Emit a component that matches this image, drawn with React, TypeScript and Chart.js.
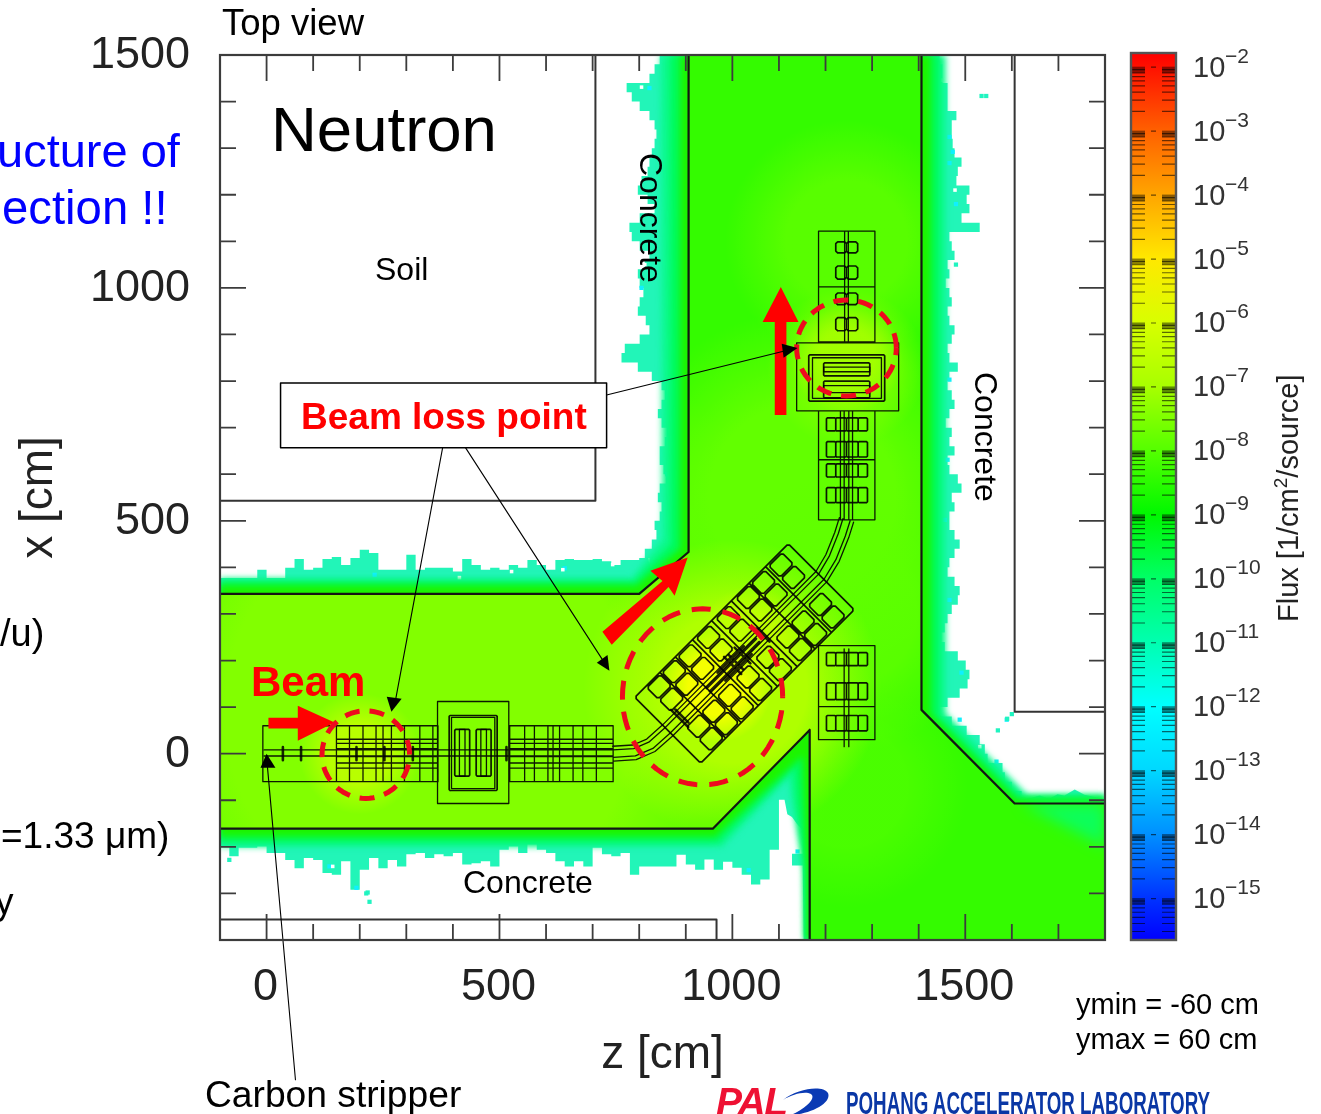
import React, { useEffect, useRef } from "react";
import { Chart, registerables } from "chart.js";

Chart.register(...registerables);

const FONT = '"Liberation Sans", Arial, sans-serif';
type P = { x: number; y: number };

// ---------- axis ----------
const Z_RANGE = [-100, 1800];
const X_RANGE = [-400, 1500];
const DECADES = [-2, -3, -4, -5, -6, -7, -8, -9, -10, -11, -12, -13, -14, -15];
const BAR_TOP = -1.786;
const BAR_BOTTOM = -15.656;
const MINOR_OFFSETS = [0.046, 0.097, 0.155, 0.222, 0.301, 0.398, 0.523, 0.699];
const FLUX_EXP = [-1.786, -2, -3, -4, -5, -6, -7, -8, -9, -10, -11, -12, -13, -14, -15, -15.656];
const FLUX_COLOR = ["#ff0000", "#ff1000", "#ff6000", "#ffa500", "#ffe800", "#d8ff00", "#a8ff00", "#55ff00", "#00f800", "#00ff66", "#00ffb0", "#00ffff", "#00d8ff", "#0090ff", "#0033ff", "#0000ff"];

// ---------- flux field: jagged limit of the scored region (cm), one value per 20 cm ----------
const TOP_ROW = [377, 377, 377, 377, 395, 377, 377, 399, 418, 395, 399, 418, 422, 405, 420, 438, 431, 395, 395, 395, 427, 395, 399, 399, 399, 391, 418, 405, 395, 399, 395, 405, 399, 416, 405, 395, 416, 418, 416, 416, 418, 413, 405, 416, 416, 420];
const LEFT_EDGE = [844, 833, 822, 773, 784, 801, 822, 833, 837, 833, 827, 822, 818, 805, 797, 818, 833, 801, 779, 784, 801, 822, 812, 797, 801, 809, 801, 797, 814, 822, 801, 769, 762, 797, 827, 848, 855, 848, 840, 848, 859, 855, 844, 844, 852, 857, 844, 840, 848, 844, 833, 837, 827, 812, 822];
const RIGHT_EDGE = [1445, 1451, 1451, 1462, 1462, 1462, 1481, 1471, 1471, 1473, 1477, 1492, 1484, 1481, 1509, 1503, 1509, 1492, 1531, 1466, 1471, 1477, 1462, 1466, 1458, 1466, 1471, 1462, 1466, 1477, 1471, 1462, 1466, 1484, 1466, 1462, 1471, 1477, 1466, 1458, 1471, 1466, 1477, 1462, 1466, 1484, 1492, 1471, 1477, 1466, 1466, 1477, 1488, 1477, 1466, 1462, 1477, 1488, 1484, 1471, 1462, 1456, 1449, 1456, 1484, 1501, 1509, 1505, 1488, 1462, 1445, 1471, 1503, 1531, 1542, 1548, 1580, 1585, 1600, 1621];
const RIGHT_ROW: [number, number][] = [[1660, -90], [1680, -97], [1698, -87], [1713, -90], [1735, -77], [1756, -88], [1800, -98], [1800, -400], [1153, -400]];
const NOTCH: [number, number][] = [[1151, -240], [1128, -240], [1128, -215], [1151, -215], [1151, -165], [1138, -150], [1128, -136], [1118, -130], [1112, -99], [1100, -99]];
const BOTTOM_ROW = [-199, -220, -202, -202, -199, -213, -213, -228, -246, -224, -228, -256, -260, -231, -292, -249, -224, -246, -228, -242, -216, -213, -224, -216, -220, -213, -238, -235, -231, -242, -206, -199, -213, -195, -206, -213, -231, -242, -231, -242, -202, -216, -220, -213, -260, -242, -242, -242, -242, -217, -238, -249, -227, -249, -232, -245, -260, -281, -270, -206];

const TUNNEL: [number, number][] = [[-100, 343], [800, 343], [906, 433], [906, 1500], [1406, 1500], [1406, 94], [1606, -107], [1800, -107], [1800, -400], [1166, -400], [1166, 51], [958, -161], [-100, -161]];
const BAND_FAR: [number, number][] = [[-100, 376], [785, 376], [850, 462], [846, 1500], [1458, 1500], [1458, 87], [1633, -88], [1800, -88], [1800, -400], [1155, -400], [1153, -250], [1128, -100], [1120, -50], [978, -200], [-100, -200]];
const BAND_OUTER: [number, number][] = [[-100, 369], [790, 369], [868, 450], [866, 1500], [1444, 1500], [1444, 81], [1617, -92], [1800, -92], [1800, -400], [1157, -400], [1155, -250], [1138, -100], [1134, -28], [970, -190], [-100, -190]];
const BAND_INNER: [number, number][] = [[-100, 361], [795, 361], [888, 440], [888, 1500], [1426, 1500], [1426, 86], [1610, -98], [1800, -98], [1800, -400], [1160, -400], [1160, -250], [1150, -5], [963, -178], [-100, -178]];
const CORNER_FADE: [number, number][] = [[1620, -107], [1800, -107], [1800, -200]];

const HOT_Z = [350, 1150, 1245, 1245, 1245, 1245, 1000, 200, 1245, 966, 1040];
const HOT_X = [90, 550, 1100, 300, -70, 830, 140, 0, 850, 144, 250];
const HOT_R = [880, 400, 260, 300, 260, 170, 320, 130, 120, 120, 110];
const HOT_COLOR = ["130,255,0,1", "98,255,0,1", "100,255,0,.75", "95,255,0,.85", "85,255,0,.65", "130,255,0,.9", "175,255,0,1", "190,255,0,.9", "170,255,0,.8", "245,255,0,1", "200,255,0,.6"];

const CYAN_Z = [822, 1466, 1473, 1466, 1492, 1488, 1567, 1589, 1144, 1140, 232, 135, 193, 1456, 1466, 1462, 1466, 805, 860, 1480, 640, 1035];
const CYAN_X = [1429, 1324, 1292, 1268, 174, 73, -17, 73, -77, -210, 384, -242, -288, 502, 330, 631, 803, 1000, 600, 1180, 398, -250];
const WHITE_Z = [1451, 805, 797, 1531, 414, 526, 636, 743, 142, 812, 1478];
const WHITE_X = [1446, 1431, 807, 15, 378, 391, 395, 406, -242, 1050, 1210];
const ISLE_Z = [1535, 1545, 221, 217, 214, 1600, 1590, 1570, -80, 1480];
const ISLE_X = [1412, 1412, -318, -298, -300, 85, 75, 50, -228, 1050];

// ---------- geometry walls ----------
const WALLS: [number, number][][] = [
  [[-100, 343], [800, 343], [906, 433], [906, 1500]],
  [[1406, 1500], [1406, 94], [1606, -107], [1800, -107]],
  [[-100, -161], [958, -161], [1166, 51], [1166, -400]],
];
const SOIL: [number, number][][] = [
  [[706, 1500], [706, 543], [-100, 543]],
  [[1606, 1500], [1606, 90], [1800, 90]],
  [[-100, -356], [966, -356], [966, -400]],
];

// ---------- beam line, straight part ----------
const STRAIGHT_EDGES = [150, 178, 207, 235, 250, 268, 296, 329, 357, 368, 522, 554, 575, 604, 615, 629, 658, 679, 708, 744];
const STRAIGHT_ROWS = [31, 22, 11, -6, -20, -31];
const STRAIGHT_PIPES = [8, -5];
const LENS_Z = [35, 74, 193, 253, 314, 515];
const RECTS: [number, number, number, number][] = [
  [-8, 150, -60, 60], [150, 368, -60, 60], [522, 744, -60, 60],
  [367, 520, -107, 112], [397, 490, -75, 78],
  [414, 426, -48, 52], [460, 472, -48, 52],
  [1185, 1306, 1002, 1122], [1185, 1306, 884, 1002],
  [1138, 1357, 736, 882], [1172, 1320, 763, 850],
  [1196, 1295, 820, 830], [1196, 1295, 775, 790],
  [1185, 1306, 631, 736], [1185, 1306, 502, 631], [1185, 1306, 30, 232], [1185, 1306, 30, 101],
];
const HEAVY_RECTS: [number, number, number, number][] = [
  [392, 495, -79, 82], [404, 436, -48, 52], [450, 482, -48, 52],
  [1164, 1327, 757, 856], [1196, 1295, 811, 839], [1196, 1295, 764, 800],
];
const SMALL_CELLS: [number, number, number, number][] = [
  [1222, 1245, 1075, 1099], [1245, 1269, 1075, 1099], [1222, 1245, 1019, 1047], [1245, 1269, 1019, 1047],
  [1222, 1245, 964, 989], [1245, 1269, 964, 989], [1222, 1245, 908, 936], [1245, 1269, 908, 936],
];
const CELL_Z: [number, number][] = [[1202, 1222], [1222, 1245], [1245, 1270], [1270, 1290]];
const CELL_X_UPPER: [number, number][] = [[693, 721], [637, 670], [594, 622], [539, 571]];
const CELL_X_LOWER: [number, number][] = [[189, 217], [116, 152], [49, 82]];
const VERTICAL_PIPES: [number, number, number][] = [[1232, 502, 736], [1240, 502, 736], [1250, 502, 736], [1258, 502, 736], [1241, 884, 1122], [1249, 884, 1122], [1240, 15, 225], [1250, 15, 225]];

// ---------- beam line, 45 degree part (u along, v across, cm) ----------
const ROT_CENTER = [1026, 215];
const ROT_HALF = [233, 100];
const ROT_GROUPS = [190, 137, 91, 30, -30, -86, -134, -180];
const ROT_DIVIDERS = [164, 114, 60, 0, -58, -110, -157];
const ROT_ACROSS: [number, number][] = [[-96, -62], [-58, -24], [24, 58], [62, 96]];
const PIPE_LOW: [number, number][] = [[744, 0], [790, 3], [825, 18], [861, 50], [1191, 380], [1215, 420], [1235, 470], [1245, 502]];
const PIPE_OFFSETS = [-16, -8, 8, 16];

// ---------- red and black annotations ----------
const LOSS_RINGS: [number, number, number, number][] = [[213, -2, 94, 94], [936, 122, 172, 189], [1245, 871, 107, 103]];
const ARROW_BEAM: [number, number][] = [[4, 77], [67, 77], [67, 103], [146, 67], [67, 28], [67, 54], [4, 54]];
const ARROW_DIAG: [number, number][] = [[721, 262], [850, 371], [824, 393], [904, 421], [876, 339], [863, 358], [741, 234]];
const ARROW_UP: [number, number][] = [[1091, 727], [1091, 927], [1065, 927], [1104, 1002], [1142, 927], [1116, 927], [1116, 727]];
const NOTE_BOX: [number, number][] = [[30, 657], [730, 657], [730, 796], [30, 796], [30, 657]];
const NOTE_LINES: [number, number][][] = [
  [[378, 657], [277, 116]], [[427, 657], [721, 202]], [[730, 770], [1114, 865]], [[62, -700], [2, -30]],
];
const NOTE_HEADS: [number, number][][] = [
  [[268, 90], [258, 122], [290, 118]], [[736, 178], [709, 195], [732, 212]],
  [[1140, 871], [1106, 880], [1110, 850]], [[0, 0], [-13, -30], [19, -30]],
];

// ---------- helpers that lay values out as points ----------
const pts = (a: [number, number][]): P[] => a.map(([x, y]) => ({ x, y }));
const GAP: P = { x: NaN, y: NaN };
const joined = (lines: P[][]): P[] => lines.flatMap((l) => [...l, GAP]);
const stairsH = (v: number[], z0: number, d: number): P[] => v.flatMap((y, i) => [{ x: z0 + i * d, y }, { x: z0 + (i + 1) * d, y }]);
const stairsV = (v: number[], x0: number, d: number): P[] => v.flatMap((x, i) => [{ x, y: x0 + i * d }, { x, y: x0 + (i + 1) * d }]);
const box = (z1: number, z2: number, x1: number, x2: number): P[] => pts([[z1, x1], [z2, x1], [z2, x2], [z1, x2], [z1, x1]]);
const soft = (z1: number, z2: number, x1: number, x2: number, c = 2): P[] =>
  pts([[z1 + c, x1], [z2 - c, x1], [z2, x1 + c], [z2, x2 - c], [z2 - c, x2], [z1 + c, x2], [z1, x2 - c], [z1, x1 + c], [z1 + c, x1]]);
const rot = (u: number, v: number): P => ({ x: ROT_CENTER[0] + (u + v) * 0.7071, y: ROT_CENTER[1] + (u - v) * 0.7071 });
const rotSoft = (u1: number, u2: number, v1: number, v2: number, c = 4): P[] =>
  [rot(u1 + c, v1), rot(u2 - c, v1), rot(u2, v1 + c), rot(u2, v2 - c), rot(u2 - c, v2), rot(u1 + c, v2), rot(u1, v2 - c), rot(u1, v1 + c), rot(u1 + c, v1)];
const ring = ([z, x, rz, rx]: number[]): P[] => Array.from({ length: 73 }, (_, i) => ({ x: z + rz * Math.cos((i * Math.PI) / 36), y: x + rx * Math.sin((i * Math.PI) / 36) }));
const offsetLine = (l: [number, number][], d: number): P[] =>
  l.map(([z, x], i) => {
    const [az, ax] = l[Math.max(0, i - 1)];
    const [bz, bx] = l[Math.min(l.length - 1, i + 1)];
    const n = Math.hypot(bz - az, bx - ax);
    return { x: z + (d * (bx - ax)) / n, y: x - (d * (bz - az)) / n };
  });

const HALO: P[] = [
  ...stairsH(TOP_ROW, -100, 20),
  ...stairsV(LEFT_EDGE, 1500, -20).reverse(),
  ...stairsV(RIGHT_EDGE, 1500, -20),
  ...pts(RIGHT_ROW),
  ...pts(NOTCH),
  ...stairsH(BOTTOM_ROW, -100, 20).reverse(),
];

const beamThin: P[][] = [
  ...RECTS.map(([a, b, c, d]) => box(a, b, c, d)),
  ...STRAIGHT_EDGES.map((z) => pts([[z, -60], [z, 60]])),
  ...STRAIGHT_ROWS.flatMap((x) => [pts([[150, x], [368, x]]), pts([[522, x], [744, x]])]),
  ...STRAIGHT_PIPES.map((x) => pts([[-5, x], [744, x]])),
  ...VERTICAL_PIPES.map(([z, a, b]) => pts([[z, a], [z, b]])),
  ...PIPE_OFFSETS.map((d) => offsetLine(PIPE_LOW, d)),
];
const beamCells: P[][] = [
  ...HEAVY_RECTS.map(([a, b, c, d]) => soft(a, b, c, d, 2)),
  ...SMALL_CELLS.map(([a, b, c, d]) => soft(a, b, c, d, 4)),
  ...CELL_Z.flatMap(([a, b]) => [...CELL_X_UPPER, ...CELL_X_LOWER].map(([c, d]) => soft(a, b, c, d))),
  rotSoft(-ROT_HALF[0], ROT_HALF[0], -ROT_HALF[1], ROT_HALF[1], 4),
  ...ROT_DIVIDERS.map((u) => [rot(u, -ROT_HALF[1]), rot(u, ROT_HALF[1])]),
  ...ROT_GROUPS.flatMap((u) => ROT_ACROSS.map(([a, b]) => rotSoft(u - 20, u + 20, a, b))),
];
const beamThick: P[][] = [
  ...LENS_Z.map((z) => pts([[z, -14], [z, 14]])),
  [rot(-110, -5), rot(40, -5)], [rot(-110, 5), rot(40, 5)], [rot(-70, -12), rot(10, -12)], [rot(-70, 12), rot(10, 12)],
  [rot(-36, -26), rot(-36, 26)], [rot(-26, -22), rot(-26, 22)], [rot(-6, -24), rot(-6, 24)], [rot(-197, -26), rot(-197, 26)], [rot(-190, -20), rot(-190, 20)], [rot(56, -20), rot(56, 20)],
];

const regionFill = {
  id: "regionFill",
  beforeDatasetDraw(chart: any, args: any) {
    const ds = chart.data.datasets[args.index];
    if (!ds.region) return;
    const { ctx, chartArea: a } = chart;
    const path = new Path2D();
    let open = false;
    for (const e of args.meta.data) {
      if (!isFinite(e.x) || !isFinite(e.y)) { open = false; continue; }
      if (!open) { path.moveTo(e.x, e.y); open = true; } else path.lineTo(e.x, e.y);
    }
    path.closePath();
    ctx.save();
    ctx.beginPath(); ctx.rect(a.left, a.top, a.width, a.height); ctx.clip();
    if (ds.blur) ctx.filter = `blur(${ds.blur}px)`;
    ctx.fillStyle = ds.region;
    ctx.fill(path);
    ctx.filter = "none";
    if (ds.glow) {
      ctx.clip(path);
      const sx = chart.scales.x, sy = chart.scales.y;
      HOT_Z.forEach((z, i) => {
        const cx = sx.getPixelForValue(z), cy = sy.getPixelForValue(HOT_X[i]);
        const r = sx.getPixelForValue(z + HOT_R[i]) - cx;
        const g = ctx.createRadialGradient(cx, cy, 0, cx, cy, r);
        const rgba = HOT_COLOR[i];
        const zero = rgba.split(",").slice(0, 3).join(",") + ",0";
        g.addColorStop(0, `rgba(${rgba})`);
        g.addColorStop(0.5, `rgba(${rgba})`);
        g.addColorStop(1, `rgba(${zero})`);
        ctx.fillStyle = g;
        ctx.fillRect(a.left, a.top, a.width, a.height);
      });
    }
    ctx.restore();
  },
};

const frameTicks = {
  id: "frameTicks",
  afterDatasetsDraw(chart: any) {
    const { ctx, chartArea: a, scales } = chart;
    ctx.save();
    ctx.strokeStyle = "#3c3c3c";
    ctx.lineWidth = 1.8;
    ctx.beginPath();
    for (const t of scales.x.ticks) {
      const p = scales.x.getPixelForValue(t.value);
      const len = t.value % 500 === 0 ? 26 : 16;
      ctx.moveTo(p, a.bottom); ctx.lineTo(p, a.bottom - len);
      ctx.moveTo(p, a.top); ctx.lineTo(p, a.top + len);
    }
    for (const t of scales.y.ticks) {
      const p = scales.y.getPixelForValue(t.value);
      const len = t.value % 500 === 0 ? 26 : 16;
      ctx.moveTo(a.left, p); ctx.lineTo(a.left + len, p);
      ctx.moveTo(a.right, p); ctx.lineTo(a.right - len, p);
    }
    ctx.stroke();
    ctx.lineWidth = 2.2;
    ctx.strokeRect(a.left, a.top, a.width, a.height);
    ctx.restore();
  },
};

const barDecor = {
  id: "barDecor",
  afterDatasetsDraw(chart: any) {
    const { ctx, chartArea: a, scales } = chart;
    const s = scales.y;
    ctx.save();
    ctx.strokeStyle = "rgba(0,0,0,.58)";
    ctx.fillStyle = "rgba(0,0,0,.45)";
    ctx.lineWidth = 1.2;
    for (const d of DECADES) {
      const p0 = s.getPixelForValue(d);
      ctx.fillRect(a.left + 1, p0, 13, 6);
      ctx.fillRect(a.right - 14, p0, 13, 6);
      ctx.beginPath();
      ctx.moveTo(a.left + 20, p0 + 0.5); ctx.lineTo(a.left + 23, p0 + 0.5);
      ctx.moveTo(a.right - 23, p0 + 0.5); ctx.lineTo(a.right - 20, p0 + 0.5);
      for (const m of MINOR_OFFSETS) {
        const v = d - m;
        if (v < BAR_BOTTOM) continue;
        const p = s.getPixelForValue(v);
        ctx.moveTo(a.left + 1, p); ctx.lineTo(a.left + 14, p);
        ctx.moveTo(a.right - 14, p); ctx.lineTo(a.right - 1, p);
      }
      ctx.stroke();
    }
    ctx.strokeStyle = "#555";
    ctx.lineWidth = 2.4;
    ctx.strokeRect(a.left, a.top, a.width, a.height);
    ctx.fillStyle = "#333";
    ctx.font = `21px ${FONT}`;
    ctx.textBaseline = "alphabetic";
    for (const d of DECADES) {
      ctx.fillText(`−${-d}`, a.right + 49, s.getPixelForValue(d) - 4);
    }
    ctx.restore();
  },
};

const LABELS: { t: string; x: number; b: number; s: number; c?: string; w?: string }[] = [
  { t: "Top view", x: 222, b: 36, s: 36.5 },
  { t: "Neutron", x: 271, b: 152, s: 63.5 },
  { t: "ucture of", x: -3, b: 167, s: 47, c: "#0000ff" },
  { t: "ection !!", x: 2, b: 224, s: 47.3, c: "#0000ff" },
  { t: "Soil", x: 375, b: 280, s: 32 },
  { t: "Concrete", x: 463, b: 893, s: 32 },
  { t: "Beam", x: 251, b: 697, s: 42, c: "#ff0000", w: "bold" },
  { t: "Beam loss point", x: 301, b: 429, s: 37, c: "#ff0000", w: "bold" },
  { t: "Carbon stripper", x: 205, b: 1107, s: 37.2 },
  { t: "ymin = -60 cm", x: 1076, b: 1015, s: 29 },
  { t: "ymax = 60 cm", x: 1076, b: 1050, s: 29 },
  { t: "/u)", x: 0, b: 646, s: 38 },
  { t: "=1.33 μm)", x: 1, b: 848, s: 37 },
  { t: "y", x: -5, b: 914, s: 37 },
];
const base = (s: number) => ({ position: "absolute" as const, whiteSpace: "nowrap" as const, lineHeight: 1, fontSize: s, fontFamily: FONT, color: "#000" });

export default function App() {
  const mainRef = useRef<HTMLCanvasElement>(null);
  const barRef = useRef<HTMLCanvasElement>(null);

  useEffect(() => {
    const fill = (label: string, data: P[], region: string, extra: any = {}) => ({ label, data, region, showLine: false, pointRadius: 0, ...extra });
    const line = (label: string, data: P[], color: string, width: number, extra: any = {}) => ({ label, data, showLine: true, pointRadius: 0, borderColor: color, borderWidth: width, borderJoinStyle: "round", borderCapStyle: "round", spanGaps: false, ...extra });
    const specks = (label: string, z: number[], x: number[], color: string, size: number) => ({ label, data: z.map((v, i) => ({ x: v, y: x[i] })), showLine: false, pointStyle: "rect", pointRadius: size, pointBorderWidth: 0, pointBackgroundColor: color });

    const datasets: any[] = [
      fill("Flux fringe", HALO, "#22f5b8"),
      specks("Fringe cyan", CYAN_Z, CYAN_X, "#10f0ff", 3),
      specks("Fringe holes", WHITE_Z, WHITE_X, "#ffffff", 2.5),
      specks("Fringe islands", ISLE_Z, ISLE_X, "#20f4c0", 3),
      fill("Band far", pts(BAND_FAR), "#0cf98e", { blur: 3 }),
      fill("Band outer", pts(BAND_OUTER), "#00fb5a", { blur: 3 }),
      fill("Band inner", pts(BAND_INNER), "#1cf400", { blur: 3 }),
      fill("Tunnel", pts(TUNNEL), "#34fb00", { glow: true }),
      fill("Corner fade", pts(CORNER_FADE), "rgba(0,255,120,.75)", { blur: 7 }),
      line("Soil boundary", joined(SOIL.map(pts)), "#333", 2),
      line("Walls", joined(WALLS.map(pts)), "#141414", 2.2),
      line("Beam line", joined(beamThin), "rgba(0,0,0,.9)", 1.3),
      line("Beam cells", joined(beamCells), "rgba(0,0,0,.9)", 1.7),
      line("Beam line dense", joined(beamThick), "rgba(0,0,0,.85)", 2.6),
      fill("Beam arrow", pts(ARROW_BEAM), "#ff0000"),
      fill("Diagonal arrow", pts(ARROW_DIAG), "#ff0000"),
      fill("Up arrow", pts(ARROW_UP), "#ff0000"),
      ...LOSS_RINGS.map((r, i) => line(`Loss ring ${i + 1}`, ring(r), "#ee0a1e", 5, { borderDash: i === 1 ? [19, 12] : [15, 10], borderCapStyle: "butt" })),
      fill("Note box", pts(NOTE_BOX), "#ffffff"),
      line("Note box edge", pts(NOTE_BOX), "#000", 1.5),
      line("Note lines", joined(NOTE_LINES.map(pts)), "#000", 1.1, { clip: false }),
      ...NOTE_HEADS.map((h, i) => fill(`Note head ${i + 1}`, pts(h), "#000")),
    ];
    datasets.forEach((d, i) => (d.order = -i));

    const tickFont = { family: FONT, size: 45 };
    const main = new Chart(mainRef.current!, {
      type: "scatter",
      data: { datasets },
      options: {
        responsive: false,
        animation: false,
        layout: { padding: { top: 55, right: 216, left: 0, bottom: 0 } },
        plugins: { legend: { display: false }, tooltip: { enabled: false } },
        scales: {
          x: {
            type: "linear", min: Z_RANGE[0], max: Z_RANGE[1],
            grid: { display: false }, border: { display: false },
            ticks: { stepSize: 100, autoSkip: false, maxRotation: 0, padding: 13, labelOffset: -1, color: "#222", font: tickFont, callback: (v: any) => (v % 500 === 0 ? String(v) : "") },
            title: { display: true, text: "z [cm]", color: "#222", font: { family: FONT, size: 46 }, padding: { top: 0, bottom: 31 } },
            afterFit: (s: any) => { s.height = 174; },
          },
          y: {
            type: "linear", min: X_RANGE[0], max: X_RANGE[1],
            grid: { display: false }, border: { display: false },
            ticks: { stepSize: 100, autoSkip: false, padding: 22, labelOffset: 1, color: "#222", font: tickFont, callback: (v: any) => (v % 500 === 0 ? String(v) : "") },
            title: { display: true, text: "x [cm]", color: "#222", font: { family: FONT, size: 46 }, padding: { top: 12, bottom: 0 } },
            afterFit: (s: any) => { s.width = 220; },
          },
        },
      } as any,
      plugins: [regionFill, frameTicks],
    } as any);

    const bar = new Chart(barRef.current!, {
      type: "bar",
      data: {
        labels: ["Flux"],
        datasets: [{
          label: "Flux [1/cm2/source]",
          data: [[BAR_BOTTOM, BAR_TOP]],
          barPercentage: 1,
          categoryPercentage: 1,
          backgroundColor: (c: any) => {
            const ch = c.chart;
            if (!ch.chartArea) return FLUX_COLOR[0];
            const s = ch.scales.y;
            const g = ch.ctx.createLinearGradient(0, s.getPixelForValue(BAR_TOP), 0, s.getPixelForValue(BAR_BOTTOM));
            FLUX_EXP.forEach((e, i) => g.addColorStop((BAR_TOP - e) / (BAR_TOP - BAR_BOTTOM), FLUX_COLOR[i]));
            return g;
          },
        }],
      },
      options: {
        responsive: false,
        animation: false,
        layout: { padding: { left: 11, top: 53, bottom: 174, right: 0 } },
        plugins: { legend: { display: false }, tooltip: { enabled: false } },
        scales: {
          x: { display: false },
          y: {
            position: "right", min: BAR_BOTTOM, max: BAR_TOP,
            grid: { display: false }, border: { display: false },
            afterBuildTicks: (s: any) => { s.ticks = DECADES.map((value) => ({ value })); },
            ticks: { padding: 9, labelOffset: 2, color: "#333", font: { family: FONT, size: 29 }, autoSkip: false, callback: () => "10" },
            afterFit: (s: any) => { s.width = 145; },
          },
        },
      } as any,
      plugins: [barDecor],
    } as any);

    return () => { main.destroy(); bar.destroy(); };
  }, []);

  const soften = { position: "absolute" as const, filter: "blur(0.55px)" };
  return (
    <div style={{ position: "fixed", left: 0, top: 0, width: 1321, height: 1114, overflow: "hidden", background: "#fff" }}>
      <canvas ref={mainRef} width={1321} height={1114} style={{ ...soften, left: 0, top: 0 }} />
      <canvas ref={barRef} width={201} height={1114} style={{ ...soften, left: 1120, top: 0 }} />
      {LABELS.map((l) => (
        <div key={l.t} style={{ ...base(l.s), left: l.x, top: l.b - 0.8465 * l.s, color: l.c || "#000", fontWeight: (l.w as any) || "normal" }}>{l.t}</div>
      ))}
      <div style={{ ...base(32), left: 667, top: 153, transform: "rotate(90deg)", transformOrigin: "0 0" }}>Concrete</div>
      <div style={{ ...base(32), left: 1002, top: 372, transform: "rotate(90deg)", transformOrigin: "0 0" }}>Concrete</div>
      <div style={{ ...base(29), left: 1274, top: 622, color: "#222", transform: "rotate(-90deg)", transformOrigin: "0 0" }}>
        Flux [1/cm<sup style={{ fontSize: 19, lineHeight: 0 }}>2</sup>/source]
      </div>
      <div style={{ ...base(39), left: 716, top: 1115 - 0.8465 * 39, color: "#ee1133", fontWeight: "bold", fontStyle: "italic", letterSpacing: -1.5 }}>PAL</div>
      <svg width="50" height="28" style={{ position: "absolute", left: 783, top: 1087 }}>
        <path d="M0 13 C15 1 40 -2 45 6 C49 16 28 27 8 28 C25 20 33 11 28 7 C22 4 10 7 0 13 Z" fill="#0a3ab4" />
      </svg>
      <div style={{ ...base(31), left: 846, top: 1114 - 0.8465 * 31, color: "#0a37a5", fontWeight: "bold", transform: "scaleX(0.605)", transformOrigin: "0 0" }}>POHANG ACCELERATOR LABORATORY</div>
    </div>
  );
}
